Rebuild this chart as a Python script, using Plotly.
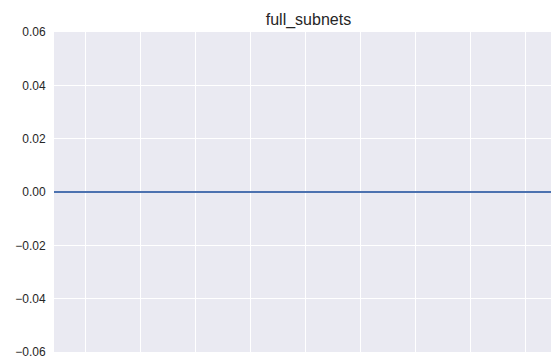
import plotly.graph_objects as go

# Training curve for the full_subnets run (flat at zero)
steps = [0, 1, 2, 3, 4, 5, 6, 7, 8, 9, 10]
values = [0.0, 0.0, 0.0, 0.0, 0.0, 0.0, 0.0, 0.0, 0.0, 0.0, 0.0]

y_ticks = [-0.06, -0.04, -0.02, 0.00, 0.02, 0.04, 0.06]
y_tick_text = ["\u22120.06", "\u22120.04", "\u22120.02", "0.00", "0.02", "0.04", "0.06"]

W, H = 551, 363
L, R, T, B = 54, 0, 32, 11

fig = go.Figure()
fig.add_trace(go.Scatter(
    x=steps, y=values, mode="lines",
    line=dict(color="#4C72B0", width=2),
    showlegend=False, hoverinfo="skip",
))

fig.update_layout(
    width=W, height=H,
    margin=dict(l=L, r=R, t=T, b=B, pad=0),
    paper_bgcolor="white",
    plot_bgcolor="#EAEAF2",
    font=dict(family="Liberation Sans Narrow, Arial Narrow, Liberation Sans, Arial, sans-serif", color="#262626"),
    title=dict(
        text="full_subnets",
        font=dict(size=16, color="#262626"),
        xref="paper", x=0.512, xanchor="center",
        yref="container", y=1 - 19 / H, yanchor="middle",
    ),
    xaxis=dict(
        range=[0, 9.036], tick0=0.573, dtick=1,
        showticklabels=False, ticks="",
        showgrid=True, gridcolor="white", gridwidth=1.3,
        zeroline=False, showline=False,
    ),
    yaxis=dict(
        range=[-0.06, 0.06],
        tickvals=y_ticks, ticktext=y_tick_text,
        tickfont=dict(size=12, color="#262626"),
        ticks="outside", ticklen=5, tickcolor="rgba(0,0,0,0)",
        showgrid=True, gridcolor="white", gridwidth=1.3,
        zeroline=False, showline=False,
    ),
)

fig.write_html("out.html")
